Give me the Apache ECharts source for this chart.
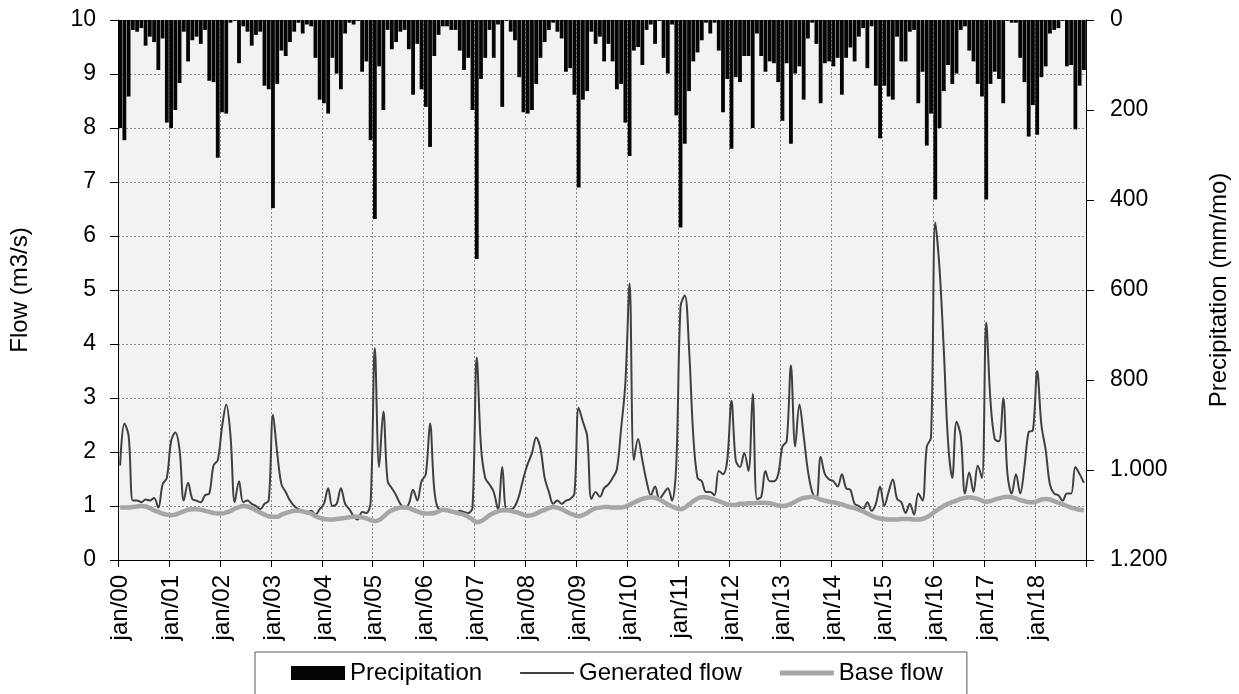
<!DOCTYPE html>
<html>
<head>
<meta charset="utf-8">
<script src="https://cdn.jsdelivr.net/npm/echarts@6/dist/echarts.min.js"></script>
<style>
  html, body { margin: 0; padding: 0; background: #fff; }
  #chart { width: 1239px; height: 694px; }
</style>
</head>
<body>
<div id="chart"></div>
<script>
// month labels (only january is shown on the axis)
const MONTHS = ['jan', 'fev', 'mar', 'abr', 'mai', 'jun', 'jul', 'ago', 'set', 'out', 'nov', 'dez']
const YEARS = ['00', '01', '02', '03', '04', '05', '06', '07', '08', '09',
  '10', '11', '12', '13', '14', '15', '16', '17', '18']

const categories = []
YEARS.forEach(y => MONTHS.forEach(m => categories.push(m + '/' + y)))

// monthly precipitation (mm/mo), one row per year
const precipitation = [
  240, 267, 170, 22, 26, 18, 57, 37, 49, 111, 41, 228,
  240, 200, 140, 26, 92, 45, 37, 53, 22, 135, 138, 306,
  205, 208, 6, 2, 96, 14, 26, 57, 33, 26, 146, 154,
  418, 142, 68, 80, 49, 26, 6, 30, 10, 14, 84, 177,
  185, 208, 84, 119, 154, 30, 6, 10, 2, 115, 92, 267,
  442, 103, 200, 22, 65, 49, 26, 22, 65, 166, 53, 154,
  193, 282, 80, 33, 14, 14, 22, 22, 68, 111, 84, 200,
  531, 131, 84, 22, 84, 10, 193, 2, 26, 45, 127, 205,
  208, 200, 142, 84, 49, 22, 6, 26, 41, 115, 107, 166,
  372, 177, 158, 26, 53, 37, 92, 53, 92, 154, 142, 228,
  302, 68, 60, 100, 22, 10, 53, 2, 84, 119, 10, 212,
  461, 275, 158, 92, 72, 45, 6, 30, 6, 68, 205, 131,
  286, 127, 138, 80, 80, 240, 30, 80, 115, 92, 96, 138,
  224, 96, 275, 119, 103, 177, 41, 6, 53, 185, 96, 92,
  103, 84, 166, 84, 61, 92, 37, 18, 107, 14, 146, 263,
  146, 170, 177, 37, 92, 92, 26, 22, 185, 115, 279, 208,
  399, 240, 158, 100, 142, 119, 22, 14, 68, 92, 142, 170,
  399, 142, 115, 131, 185, 2, 6, 6, 84, 138, 259, 189,
  255, 127, 103, 30, 22, 18, 2, 103, 100, 243, 146, 111
]

// generated flow (m3/s)
const generatedFlow = [
  1.75, 2.53, 2.3, 1.1, 1.1, 1.07, 1.12, 1.1, 1.15, 0.97, 1.4, 1.52,
  2.2, 2.36, 2.04, 1.1, 1.43, 1.13, 1.1, 1.07, 1.2, 1.23, 1.75, 1.85,
  2.46, 2.88, 2.3, 1.07, 1.46, 1.07, 1.1, 1.04, 1.0, 0.94, 1.04, 1.1,
  2.69, 1.98, 1.4, 1.26, 1.1, 1.0, 0.94, 0.91, 0.89, 0.91, 0.84, 0.94,
  1.04, 1.33, 1.0, 1.04, 1.33, 1.04, 0.94, 0.81, 0.75, 0.89, 0.87, 1.07,
  3.92, 1.72, 2.75, 1.46, 1.33, 1.2, 1.04, 0.97, 1.04, 1.3, 1.1, 1.46,
  1.59, 2.53, 1.3, 0.95, 0.94, 0.91, 0.89, 0.87, 0.91, 0.89, 0.87, 0.97,
  3.75, 2.1, 1.52, 1.4, 1.26, 0.94, 1.72, 0.94, 0.94, 1.0, 1.2, 1.52,
  1.78, 1.98, 2.27, 2.07, 1.52, 1.26, 1.04, 1.1, 1.04, 1.1, 1.13, 1.23,
  2.82, 2.56, 2.3, 1.13, 1.26, 1.17, 1.33, 1.4, 1.52, 1.68, 2.43, 3.27,
  5.12, 1.85, 2.24, 1.85, 1.46, 1.2, 1.36, 1.13, 1.23, 1.33, 1.1, 1.78,
  4.7, 4.9, 3.92, 2.3, 1.52, 1.46, 1.26, 1.26, 1.2, 1.65, 1.59, 1.85,
  2.95, 1.85, 1.72, 1.98, 1.65, 3.08, 1.13, 1.17, 1.65, 1.46, 1.46, 1.59,
  2.1, 2.2, 3.6, 2.1, 2.88, 2.3, 1.65, 1.26, 1.13, 1.91, 1.59, 1.49,
  1.46, 1.36, 1.59, 1.33, 1.3, 1.04, 1.0, 0.94, 1.07, 0.91, 1.04, 1.36,
  1.0, 1.26, 1.49, 1.13, 1.07, 0.87, 1.04, 0.84, 1.23, 1.1, 2.1, 2.27,
  6.25, 5.4, 3.9, 2.2, 1.52, 2.56, 2.3, 1.23, 1.62, 1.26, 1.75, 1.52,
  4.4, 2.95, 2.24, 2.2, 3.0, 1.59, 1.23, 1.59, 1.23, 1.72, 2.37, 2.4,
  3.5, 2.5, 2.04, 1.4, 1.23, 1.2, 1.1, 1.23, 1.23, 1.72, 1.59, 1.43
]

// base flow (m3/s)
const baseFlow = [
  0.97, 0.97, 0.97, 0.98, 0.99, 1.0, 0.99, 0.96, 0.92, 0.89, 0.86, 0.84,
  0.83, 0.84, 0.87, 0.9, 0.93, 0.94, 0.94, 0.93, 0.91, 0.89, 0.87, 0.86,
  0.86, 0.88, 0.91, 0.95, 0.98, 1.0, 0.99, 0.96, 0.92, 0.88, 0.84, 0.81,
  0.8, 0.8, 0.84, 0.87, 0.89, 0.91, 0.91, 0.9, 0.88, 0.86, 0.81, 0.78,
  0.76, 0.75, 0.75, 0.76, 0.77, 0.78, 0.79, 0.8, 0.8, 0.79, 0.77, 0.74,
  0.72, 0.74, 0.8, 0.87, 0.92, 0.95, 0.97, 0.97, 0.96, 0.93, 0.9, 0.87,
  0.86, 0.86, 0.87, 0.9, 0.93, 0.92, 0.9, 0.88, 0.86, 0.84, 0.8, 0.75,
  0.7, 0.72, 0.77, 0.83, 0.87, 0.9, 0.92, 0.92, 0.91, 0.89, 0.87, 0.84,
  0.82, 0.83, 0.86, 0.9, 0.93, 0.96, 0.98, 0.97, 0.94, 0.9, 0.86, 0.83,
  0.81, 0.83, 0.87, 0.92, 0.96, 0.97, 0.98, 0.98, 0.97, 0.97, 0.97, 0.99,
  1.02, 1.06, 1.1, 1.13, 1.15, 1.16, 1.15, 1.12, 1.08, 1.03, 0.99, 0.96,
  0.94, 0.97, 1.03, 1.09, 1.14, 1.16, 1.16, 1.14, 1.12, 1.09, 1.06, 1.03,
  1.02, 1.02, 1.04, 1.04, 1.05, 1.05, 1.06, 1.06, 1.06, 1.05, 1.03, 1.01,
  1.0, 1.01, 1.04, 1.08, 1.12, 1.15, 1.16, 1.17, 1.15, 1.12, 1.1, 1.08,
  1.07, 1.05, 1.03, 1.0, 0.98, 0.96, 0.93, 0.9, 0.86, 0.82, 0.79, 0.77,
  0.76, 0.75, 0.75, 0.75, 0.76, 0.76, 0.76, 0.75, 0.75, 0.76, 0.79, 0.84,
  0.9, 0.95, 1.0, 1.04, 1.07, 1.1, 1.13, 1.15, 1.16, 1.15, 1.13, 1.1,
  1.08, 1.09, 1.12, 1.14, 1.16, 1.17, 1.16, 1.14, 1.11, 1.09, 1.07, 1.07,
  1.09, 1.12, 1.13, 1.12, 1.09, 1.06, 1.03, 1.0, 0.97, 0.95, 0.93, 0.92
]

const FONT = '"Liberation Sans", Arial, sans-serif'
const dotted = { color: '#8c8c8c', type: [2, 2], width: 1 }

// legend icons: a thin strip inside a 54x14 box (corner dots keep the box size)
const thinLine = 'path://M0,0L0.01,0L0,0.01Z M0,6L54,6L54,8L0,8Z M54,14L53.99,14L54,13.99Z'
const thickLine = 'path://M0,0L0.01,0L0,0.01Z M0,4.5L54,4.5L54,9.5L0,9.5Z M54,14L53.99,14L54,13.99Z'

const chart = echarts.init(document.getElementById('chart'))

const option = {
  animation: false,
  textStyle: { fontFamily: FONT, color: '#000' },
  grid: {
    left: 118,
    right: 152,
    top: 20,
    bottom: 134,
    show: true,
    backgroundColor: '#f2f2f2',
    borderWidth: 0
  },
  legend: {
    left: 255,
    top: 652,
    padding: [9, 24, 12, 36],
    borderColor: '#595959',
    borderWidth: 1,
    itemGap: 38,
    itemWidth: 54,
    itemHeight: 14,
    textStyle: { fontFamily: FONT, fontSize: 24, color: '#000' },
    data: [
      { name: 'Precipitation', icon: 'rect' },
      { name: 'Generated flow', icon: thinLine, itemStyle: { color: '#404040', borderWidth: 0 } },
      { name: 'Base flow', icon: thickLine, itemStyle: { color: '#a6a6a6', borderWidth: 0 } }
    ]
  },
  xAxis: {
    type: 'category',
    data: categories,
    boundaryGap: true,
    axisLine: { show: true, lineStyle: { color: '#000', width: 1 } },
    axisTick: { show: true, interval: 11, length: 7, lineStyle: { color: '#000' } },
    axisLabel: {
      interval: 11,
      rotate: 90,
      margin: 15,
      fontSize: 24,
      fontFamily: FONT,
      color: '#000'
    },
    splitLine: { show: true, interval: 11, lineStyle: dotted }
  },
  yAxis: [
    {
      type: 'value',
      min: 0,
      max: 10,
      interval: 1,
      name: 'Flow (m3/s)',
      nameLocation: 'middle',
      nameRotate: 90,
      nameGap: 86,
      nameTextStyle: { fontFamily: FONT, fontSize: 24, color: '#000' },
      axisLine: { show: true, lineStyle: { color: '#000', width: 1 } },
      axisTick: { show: true, length: 8, lineStyle: { color: '#000' } },
      axisLabel: { fontSize: 23, fontFamily: FONT, color: '#000', margin: 22 },
      splitLine: { show: true, lineStyle: dotted }
    },
    {
      type: 'value',
      position: 'right',
      inverse: true,
      min: 0,
      max: 1200,
      interval: 200,
      name: 'Precipitation (mm/mo)',
      nameLocation: 'middle',
      nameRotate: 90,
      nameGap: 121,
      nameTextStyle: { fontFamily: FONT, fontSize: 24, color: '#000' },
      axisLine: { show: true, lineStyle: { color: '#000', width: 1 } },
      axisTick: { show: true, length: 8, lineStyle: { color: '#000' } },
      axisLabel: {
        fontSize: 23,
        fontFamily: FONT,
        color: '#000',
        margin: 24,
        formatter: v => String(v).replace(/\B(?=(\d{3})+(?!\d))/g, '.')
      },
      splitLine: { show: false }
    }
  ],
  series: [
    {
      name: 'Precipitation',
      type: 'bar',
      yAxisIndex: 1,
      data: precipitation,
      barCategoryGap: '10%',
      itemStyle: { color: '#050505' }
    },
    {
      name: 'Generated flow',
      type: 'line',
      data: generatedFlow,
      smooth: 0.35,
      symbol: 'none',
      lineStyle: { color: '#404040', width: 2 },
      itemStyle: { color: '#404040' }
    },
    {
      name: 'Base flow',
      type: 'line',
      data: baseFlow,
      smooth: 0.4,
      symbol: 'none',
      lineStyle: { color: '#a6a6a6', width: 4.5 },
      itemStyle: { color: '#a6a6a6' }
    }
  ]
}

chart.setOption(option)
</script>
</body>
</html>
